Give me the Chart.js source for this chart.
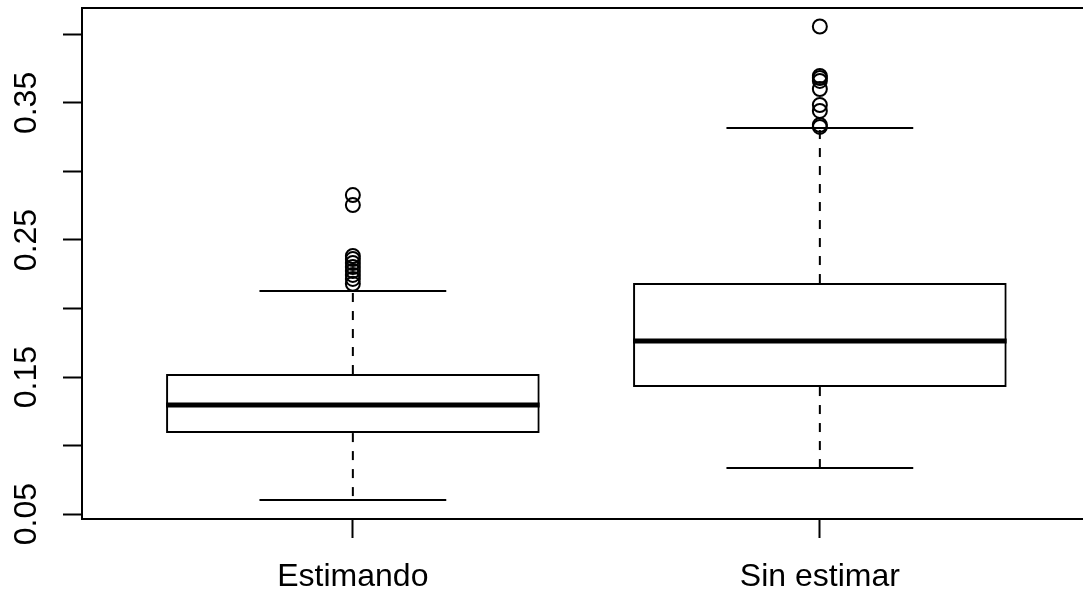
<!DOCTYPE html>
<html>
<head>
<meta charset="utf-8">
<script src="https://cdn.jsdelivr.net/npm/chart.js@4/dist/chart.umd.min.js"></script>
<style>
  html, body { margin: 0; padding: 0; background: #fff; overflow: hidden; }
</style>
</head>
<body>
<canvas id="chart" width="1083" height="593"></canvas>
<script>
// values
const categories = ["Estimando", "Sin estimar"];
const lowerWhisker = [0.0602, 0.0836];
const lowerHinge = [0.1091, 0.1427];
const medians = [0.1296, 0.1763];
const upperHinge = [0.1522, 0.2186];
const upperWhisker = [0.2128, 0.3318];
const outliersEstimando = [0.2828, 0.2755, 0.2383, 0.2361, 0.2332, 0.2303, 0.2274, 0.2245, 0.2216, 0.2180];
const outliersSinEstimar = [0.4058, 0.3697, 0.3682, 0.3661, 0.3602, 0.3485, 0.3442, 0.3339, 0.3325];
const yTicks = [0.05, 0.10, 0.15, 0.20, 0.25, 0.30, 0.35, 0.40];
const yLabelValues = [0.05, 0.15, 0.25, 0.35];
const yTickLabels = ["0.05", "0.15", "0.25", "0.35"];

const boxHalf = 0.4;   // boxwex 0.8
const capHalf = 0.2;
const font = '"Liberation Sans", Arial, Helvetica, sans-serif';

const datasets = [];

// boxes
datasets.push({
  type: "bar",
  data: categories.map((c, i) => ({ x: i + 1, y: [lowerHinge[i], upperHinge[i]] })),
  backgroundColor: "rgba(0,0,0,0)",
  borderColor: "#000",
  borderWidth: 2,
  borderSkipped: false,
  barPercentage: 0.8,
  categoryPercentage: 1,
  order: 5,
});

categories.forEach((c, i) => {
  const x = i + 1;
  // dashed whiskers
  datasets.push({
    type: "line",
    data: [{ x: x, y: upperHinge[i] }, { x: x, y: upperWhisker[i] }],
    borderColor: "#000", borderWidth: 2, borderDash: [9, 9],
    pointRadius: 0, order: 4,
  });
  datasets.push({
    type: "line",
    data: [{ x: x, y: lowerHinge[i] }, { x: x, y: lowerWhisker[i] }],
    borderColor: "#000", borderWidth: 2, borderDash: [9, 9],
    pointRadius: 0, order: 4,
  });
  // caps
  datasets.push({
    type: "line",
    data: [{ x: x - capHalf, y: upperWhisker[i] }, { x: x + capHalf, y: upperWhisker[i] }],
    borderColor: "#000", borderWidth: 2, pointRadius: 0, order: 3,
  });
  datasets.push({
    type: "line",
    data: [{ x: x - capHalf, y: lowerWhisker[i] }, { x: x + capHalf, y: lowerWhisker[i] }],
    borderColor: "#000", borderWidth: 2, pointRadius: 0, order: 3,
  });
  // median
  datasets.push({
    type: "line",
    data: [{ x: x - boxHalf, y: medians[i] }, { x: x + boxHalf, y: medians[i] }],
    borderColor: "#000", borderWidth: 5, borderCapStyle: "butt",
    pointRadius: 0, order: 2,
  });
});

// outliers
[outliersEstimando, outliersSinEstimar].forEach((list, i) => {
  datasets.push({
    type: "scatter",
    data: list.map((v) => ({ x: i + 1, y: v })),
    pointStyle: "circle",
    pointRadius: 7,
    pointBorderWidth: 2,
    pointBackgroundColor: "rgba(0,0,0,0)",
    pointBorderColor: "#000",
    order: 1,
  });
});

// top frame line and rotated y labels
const framePlugin = {
  id: "frame",
  afterDraw(chart) {
    const c = chart.ctx;
    const area = chart.chartArea;
    const yScale = chart.scales.y;
    c.save();
    c.strokeStyle = "#000";
    c.lineWidth = 2;
    c.beginPath();
    c.moveTo(area.left - 1, area.top);
    c.lineTo(area.right, area.top);
    c.stroke();
    c.fillStyle = "#000";
    c.font = "32px " + font;
    c.textAlign = "center";
    c.textBaseline = "alphabetic";
    yLabelValues.forEach((v, i) => {
      const y = yScale.getPixelForValue(v);
      c.save();
      c.translate(36, y);
      c.rotate(-Math.PI / 2);
      c.fillText(yTickLabels[i], 0, 0);
      c.restore();
    });
    c.restore();
  },
};

new Chart(document.getElementById("chart"), {
  data: { datasets: datasets },
  plugins: [framePlugin],
  options: {
    responsive: false,
    animation: false,
    events: [],
    layout: { autoPadding: false, padding: { top: 8, left: 0, right: 0, bottom: 0 } },
    plugins: { legend: { display: false }, tooltip: { enabled: false } },
    scales: {
      x: {
        type: "linear",
        min: 0.42,
        max: 2.5635,
        offset: false,
        afterBuildTicks: (s) => { s.ticks = categories.map((c, i) => ({ value: i + 1 })); },
        afterFit: (s) => { s.height = 74; },
        grid: { offset: false, drawOnChartArea: false, tickLength: 19, tickColor: "#000", tickWidth: 2 },
        border: { display: true, color: "#000", width: 2 },
        ticks: {
          color: "#000",
          font: { family: font, size: 32 },
          padding: 20,
          maxRotation: 0,
          autoSkip: false,
          callback: (v) => categories[Math.round(v) - 1],
        },
      },
      y: {
        type: "linear",
        min: 0.0464,
        max: 0.4193,
        afterBuildTicks: (s) => { s.ticks = yTicks.map((v) => ({ value: v })); },
        afterFit: (s) => { s.width = 82; },
        grid: { drawOnChartArea: false, tickLength: 19, tickColor: "#000", tickWidth: 2 },
        border: { display: true, color: "#000", width: 2 },
        ticks: { display: false },
      },
    },
  },
});
</script>
</body>
</html>
